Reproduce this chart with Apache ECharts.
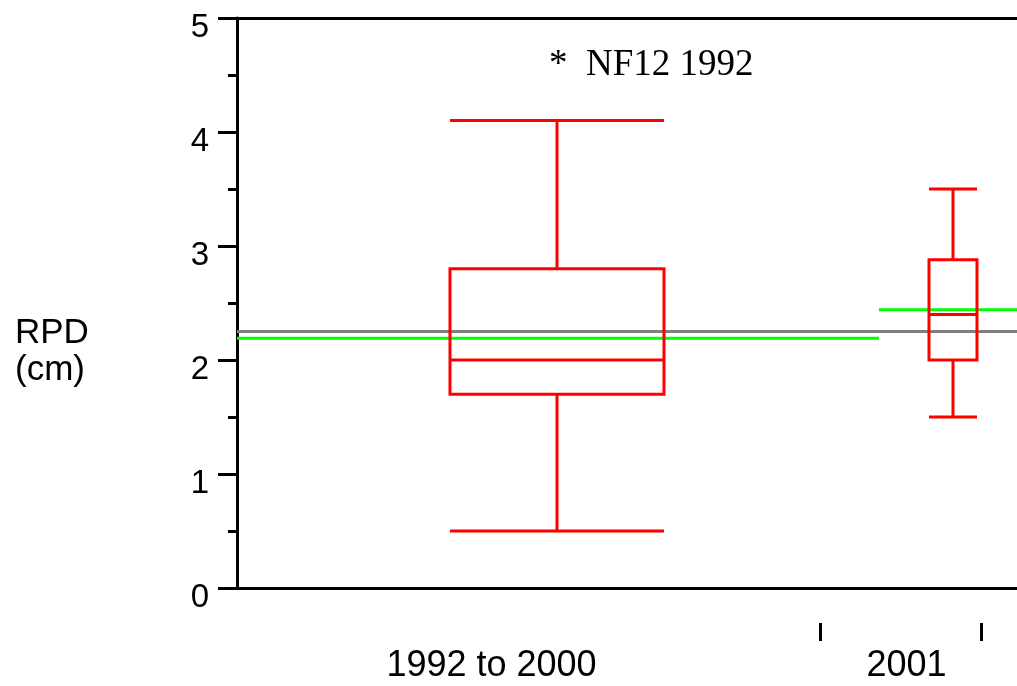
<!DOCTYPE html>
<html>
<head>
<meta charset="utf-8">
<script src="https://cdn.jsdelivr.net/npm/echarts@6/dist/echarts.min.js"></script>
<style>html,body{margin:0;padding:0;background:#fff;}#c{width:1017px;height:686px;}</style>
</head>
<body>
<div id="c"></div>
<script>
// Data
const groupLabels = ['1992 to 2000', '2001'];
const groupLabelPos = [2.545, 6.695];
const groupTickPos = [5.83, 7.44];
const boxCenters = [3.2, 7.16];
const boxWidths = [2.14, 0.48];
const boxLow = [0.5, 1.5];
const boxQ1 = [1.7, 2.0];
const boxMedian = [2.0, 2.4];
const boxQ3 = [2.8, 2.88];
const boxHigh = [4.1, 3.5];
const overallMean = 2.25;
const groupMeans = [2.19, 2.44];
const groupSpans = [[0, 6.42], [6.42, 7.8]];
const xRange = [0, 7.8];
const yTicks = [0, 1, 2, 3, 4, 5];

const boxData = boxCenters.map((c, i) => [c, boxWidths[i], boxLow[i], boxQ1[i], boxMedian[i], boxQ3[i], boxHigh[i]]);

const RED = '#ff0000';
const chart = echarts.init(document.getElementById('c'));
chart.setOption({
  animation: false,
  backgroundColor: '#fff',
  title: [
    { text: 'RPD\n(cm)', left: 10, top: 310,
      textStyle: { fontFamily: 'Liberation Sans', fontSize: 35, fontWeight: 'normal', color: '#000', lineHeight: 37 } },
    { text: '*  NF12 1992', left: 544, top: 42,
      textStyle: { fontFamily: 'Liberation Serif', fontSize: 37, fontWeight: 'normal', color: '#000' } }
  ],
  grid: { left: 237, right: 0, top: 18, bottom: 98, containLabel: false },
  xAxis: [
    { type: 'value', min: xRange[0], max: xRange[1], position: 'bottom',
      axisLine: { show: true, lineStyle: { color: '#000', width: 3 } },
      axisTick: { show: false }, axisLabel: { show: false }, splitLine: { show: false } },
    { type: 'value', min: xRange[0], max: xRange[1], position: 'top',
      axisLine: { show: true, lineStyle: { color: '#000', width: 3 } },
      axisTick: { show: false }, axisLabel: { show: false }, splitLine: { show: false } },
    { type: 'value', min: xRange[0], max: xRange[1], position: 'bottom', offset: 35,
      axisLine: { show: false },
      axisTick: { show: true, customValues: groupTickPos, length: 18, lineStyle: { color: '#000', width: 3 } },
      axisLabel: { show: true, customValues: groupLabelPos, margin: 25,
        fontFamily: 'Liberation Sans', fontSize: 36, color: '#000',
        formatter: function (v) {
          let best = 0, d = Infinity;
          groupLabelPos.forEach((p, i) => { if (Math.abs(p - v) < d) { d = Math.abs(p - v); best = i; } });
          return groupLabels[best];
        } },
      splitLine: { show: false } }
  ],
  yAxis: {
    type: 'value', min: yTicks[0], max: yTicks[yTicks.length - 1], interval: 1,
    axisLine: { show: true, lineStyle: { color: '#000', width: 3 } },
    axisTick: { show: true, length: 19, lineStyle: { color: '#000', width: 3 } },
    minorTick: { show: true, splitNumber: 2, length: 9, lineStyle: { color: '#000', width: 3 } },
    axisLabel: { margin: 28,
      formatter: function (v) { return '{a|' + v + '}'; },
      rich: { a: { fontFamily: 'Liberation Sans', fontSize: 33, color: '#000', padding: [20, 0, 0, 0] } } },
    splitLine: { show: false }
  },
  series: [
    { type: 'line', xAxisIndex: 0, data: [[xRange[0], overallMean], [xRange[1], overallMean]],
      symbol: 'none', lineStyle: { color: '#808080', width: 3 }, z: 1 },
    { type: 'line', xAxisIndex: 0, data: [[groupSpans[0][0], groupMeans[0]], [groupSpans[0][1], groupMeans[0]]],
      symbol: 'none', lineStyle: { color: '#00ff00', width: 3 }, z: 2 },
    { type: 'line', xAxisIndex: 0, data: [[groupSpans[1][0], groupMeans[1]], [groupSpans[1][1], groupMeans[1]]],
      symbol: 'none', lineStyle: { color: '#00ff00', width: 3 }, z: 2 },
    { type: 'custom', xAxisIndex: 0, z: 3, data: boxData,
      renderItem: function (params, api) {
        const c = api.value(0), w = api.value(1);
        const L = c - w / 2, R = c + w / 2;
        const pLow = api.coord([c, api.value(2)]);
        const pQ1 = api.coord([c, api.value(3)]);
        const pMed = api.coord([c, api.value(4)]);
        const pQ3 = api.coord([c, api.value(5)]);
        const pHigh = api.coord([c, api.value(6)]);
        const xl = api.coord([L, 0])[0], xr = api.coord([R, 0])[0];
        const st = { stroke: RED, lineWidth: 3, fill: null };
        const line = (x1, y1, x2, y2) => ({ type: 'line', shape: { x1, y1, x2, y2 }, style: st });
        return { type: 'group', children: [
          { type: 'rect', shape: { x: xl, y: pQ3[1], width: xr - xl, height: pQ1[1] - pQ3[1] }, style: { stroke: RED, lineWidth: 3, fill: 'rgba(0,0,0,0)' } },
          line(xl, pMed[1], xr, pMed[1]),
          line(pQ3[0], pQ3[1], pHigh[0], pHigh[1]),
          line(pQ1[0], pQ1[1], pLow[0], pLow[1]),
          line(xl, pHigh[1], xr, pHigh[1]),
          line(xl, pLow[1], xr, pLow[1])
        ] };
      } }
  ]
});
</script>
</body>
</html>
